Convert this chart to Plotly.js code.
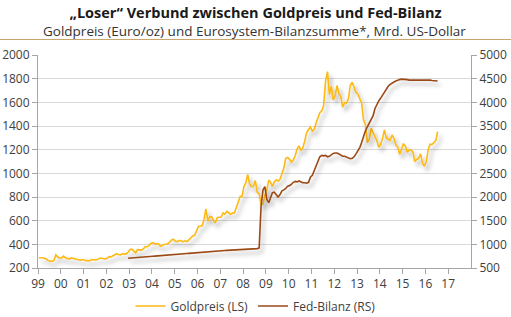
<!DOCTYPE html>
<html>
<head>
<meta charset="utf-8">
<script src="https://cdn.plot.ly/plotly-3.0.1.min.js"></script>
<style>
  html, body { margin:0; padding:0; background:#fff; }
  #chart { width:511px; height:317px; }
</style>
</head>
<body>
<div id="chart"></div>
<script>
// Gold price, monthly, Jan 1999 - Jul 2016 (left scale)
const goldStart = [1999, 1];
const goldValues = [
  287, 288, 286, 282, 277, 261, 256, 256, 265, 311, 293, 284,
  285, 300, 286, 280, 275, 285, 281, 274, 273, 270, 266, 272,
  265, 262, 263, 261, 272, 270, 268, 273, 283, 283, 276, 276,
  282, 296, 294, 302, 314, 321, 314, 310, 319, 317, 319, 333,
  356, 359, 340, 328, 355, 356, 351, 360, 379, 379, 389, 407,
  414, 405, 406, 404, 383, 392, 398, 400, 406, 420, 439, 442,
  424, 423, 434, 429, 422, 430, 424, 437, 456, 470, 476, 510,
  549, 555, 557, 610, 700, 596, 633, 632, 598, 585, 627, 629,
  631, 665, 655, 679, 667, 655, 665, 665, 712, 754, 806, 803,
  889, 923, 990, 909, 888, 890, 939, 839, 829, 740, 740, 816,
  858, 943, 925, 890, 928, 946, 934, 949, 996, 1043, 1127, 1135,
  1118, 1095, 1113, 1148, 1205, 1232, 1193, 1215, 1271, 1343, 1370, 1391,
  1356, 1372, 1424, 1474, 1512, 1529, 1572, 1780, 1860, 1665, 1739, 1620,
  1656, 1742, 1675, 1649, 1560, 1598, 1594, 1630, 1744, 1770, 1722, 1684,
  1671, 1628, 1593, 1450, 1414, 1260, 1286, 1380, 1349, 1316, 1275, 1220,
  1244, 1300, 1366, 1299, 1288, 1279, 1324, 1296, 1239, 1222, 1160, 1201,
  1251, 1227, 1179, 1198, 1199, 1181, 1100, 1117, 1125, 1165, 1086, 1060,
  1097, 1200, 1246, 1243, 1259, 1276, 1352
];
// Fed balance sheet, monthly, Dec 2002 - Jul 2016 (right scale)
const fedStart = [2002, 12];
const fedValues = [
  705,
  707, 710, 714, 717, 720, 724, 727, 730, 734, 737, 740, 744,
  747, 750, 754, 757, 760, 764, 767, 770, 774, 777, 780, 784,
  787, 790, 794, 797, 800, 804, 807, 810, 814, 817, 820, 824,
  827, 830, 834, 837, 840, 843, 846, 849, 852, 855, 858, 861,
  864, 866, 869, 872, 874, 877, 880, 882, 885, 888, 890, 893,
  895, 897, 899, 901, 903, 905, 907, 910, 925, 1800, 2150, 2220,
  1950, 1880, 1980, 2090, 2100, 2060, 2000, 2050, 2130, 2150, 2180, 2230,
  2240, 2270, 2310, 2330, 2320, 2340, 2320, 2300, 2300, 2290, 2310, 2420,
  2460, 2560, 2650, 2750, 2850, 2880, 2870, 2880, 2850, 2860, 2900, 2920,
  2930, 2930, 2910, 2880, 2860, 2860, 2840, 2820, 2810, 2820, 2850, 2910,
  2980, 3050, 3150, 3280, 3400, 3480, 3560, 3640, 3720, 3870, 3960, 4030,
  4090, 4150, 4220, 4290, 4340, 4380, 4410, 4430, 4450, 4470, 4480, 4490,
  4490, 4480, 4480, 4470, 4470, 4480, 4480, 4470, 4470, 4480, 4480, 4480,
  4470, 4470, 4470, 4460, 4460, 4460, 4450
];
const xTickYears = [1999,2000,2001,2002,2003,2004,2005,2006,2007,2008,2009,2010,2011,2012,2013,2014,2015,2016,2017];
const xTickLabels = ['99','00','01','02','03','04','05','06','07','08','09','10','11','12','13','14','15','16','17'];
const seriesNames = ['Goldpreis (LS)', 'Fed-Bilanz (RS)'];

function monthDates(start, n) {
  const out = [];
  let y = start[0], m = start[1];
  for (let i = 0; i < n; i++) {
    out.push(y + '-' + String(m).padStart(2, '0') + '-15');
    m++; if (m > 12) { m = 1; y++; }
  }
  return out;
}

const goldDates = monthDates(goldStart, goldValues.length);
const fedDates = monthDates(fedStart, fedValues.length);
const tickVals = xTickYears.map(y => y + '-01-01');

const FONT = 'Open Sans, Noto Sans, sans-serif';

const traces = [
  { x: goldDates, y: goldValues, name: seriesNames[0], type: 'scatter', mode: 'lines',
    line: { color: '#FDB913', width: 1.6 }, yaxis: 'y' },
  { x: fedDates, y: fedValues, name: seriesNames[1], type: 'scatter', mode: 'lines',
    line: { color: '#9B4A17', width: 1.6 }, yaxis: 'y2' }
];

const layout = {
  width: 511, height: 317,
  margin: { l: 38, r: 40, t: 55, b: 49, pad: 0, autoexpand: false },
  paper_bgcolor: '#fff', plot_bgcolor: '#fff',
  font: { family: FONT, size: 12, color: '#404040' },
  showlegend: true,
  title: {
    text: '<b>„Loser“ Verbund zwischen Goldpreis und Fed-Bilanz</b>',
    font: { family: FONT, size: 14.5, color: '#1a1a1a' },
    x: 0.5, xref: 'container', xanchor: 'center',
    y: 1 - 13 / 317, yref: 'container', yanchor: 'middle'
  },
  annotations: [{
    text: 'Goldpreis (Euro/oz) und Eurosystem-Bilanzsumme*, Mrd. US-Dollar',
    xref: 'paper', yref: 'paper', x: 0.5, y: (268 - 31) / 213,
    xanchor: 'center', yanchor: 'middle', showarrow: false,
    font: { family: FONT, size: 13.5, color: '#333' }
  }],
  shapes: [{
    type: 'line', xref: 'paper', yref: 'paper',
    x0: -38.3 / 432.4, x1: 1 + 40.3 / 432.4,
    y0: (268 - 39.5) / 213, y1: (268 - 39.5) / 213,
    line: { color: '#C9A66B', width: 1 }
  }],
  xaxis: {
    type: 'date',
    range: ['1999-01-01', '2018-01-01'],
    tickvals: tickVals, ticktext: xTickLabels,
    ticks: 'outside', ticklen: 5, tickcolor: '#a6a6a6',
    showline: true, linecolor: '#a6a6a6', linewidth: 1,
    showgrid: false, zeroline: false,
    tickfont: { size: 12, color: '#404040' }
  },
  yaxis: {
    range: [200, 2000], dtick: 200, tick0: 200,
    ticks: 'outside', ticklen: 5, tickcolor: '#a6a6a6',
    showline: true, linecolor: '#a6a6a6', linewidth: 1,
    showgrid: true, gridcolor: '#d9d9d9', gridwidth: 1,
    zeroline: false,
    tickfont: { size: 12, color: '#404040' }
  },
  yaxis2: {
    overlaying: 'y', side: 'right',
    range: [500, 5000], dtick: 500, tick0: 500,
    ticks: 'outside', ticklen: 5, tickcolor: '#a6a6a6',
    showline: true, linecolor: '#a6a6a6', linewidth: 1,
    showgrid: false, zeroline: false,
    tickfont: { size: 12, color: '#404040' }
  },
  legend: {
    orientation: 'h', x: 0.5, xanchor: 'center', xref: 'container',
    y: 1 - 306 / 317, yanchor: 'middle', yref: 'container',
    font: { size: 12, color: '#404040' },
    itemwidth: 30
  }
};

Plotly.newPlot('chart', traces, layout, { staticPlot: true, displayModeBar: false }).then(function () {
  const NS = 'http://www.w3.org/2000/svg';
  const svg = document.querySelector('#chart .main-svg');
  let defs = svg.querySelector('defs');
  if (!defs) { defs = document.createElementNS(NS, 'defs'); svg.insertBefore(defs, svg.firstChild); }
  const f = document.createElementNS(NS, 'filter');
  f.setAttribute('id', 'lineshadow');
  f.setAttribute('filterUnits', 'userSpaceOnUse');
  f.setAttribute('x', '0'); f.setAttribute('y', '0');
  f.setAttribute('width', '511'); f.setAttribute('height', '317');
  const ds = document.createElementNS(NS, 'feDropShadow');
  ds.setAttribute('dx', '3'); ds.setAttribute('dy', '4');
  ds.setAttribute('stdDeviation', '2.2');
  ds.setAttribute('flood-color', '#000');
  ds.setAttribute('flood-opacity', '0.3');
  f.appendChild(ds);
  defs.appendChild(f);
  document.querySelectorAll('#chart .scatterlayer .trace .js-line').forEach(function (p) {
    p.setAttribute('filter', 'url(#lineshadow)');
  });
});
</script>
</body>
</html>
